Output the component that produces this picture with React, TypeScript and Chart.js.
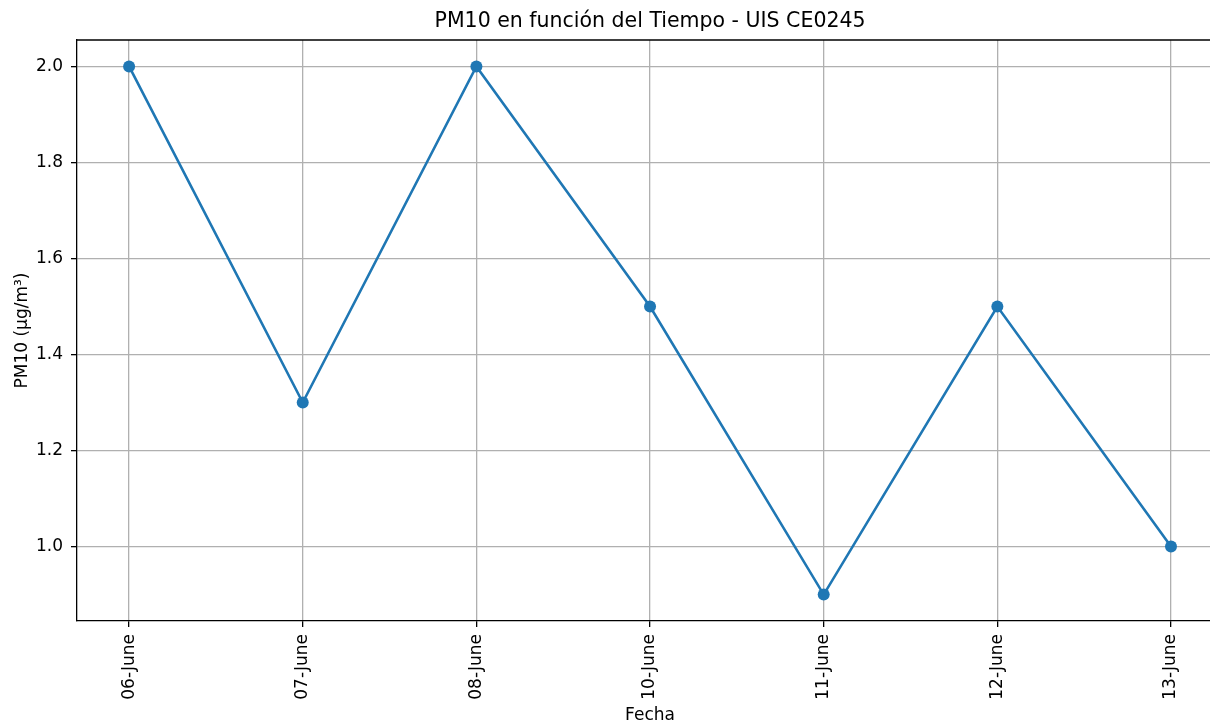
import React, { useEffect, useRef } from "react";
import { Chart, registerables } from "chart.js";

Chart.register(...registerables);

const categories = ["06-June", "07-June", "08-June", "10-June", "11-June", "12-June", "13-June"];
const pm10Values = [2.0, 1.3, 2.0, 1.5, 0.9, 1.5, 1.0];
const yTickValues = [1.0, 1.2, 1.4, 1.6, 1.8, 2.0];
const titleText = "PM10 en función del Tiempo - UIS CE0245";
const xTitle = "Fecha";
const yTitle = "PM10 (µg/m³)";

const FONT = "'DejaVu Sans', sans-serif";
const LINE_COLOR = "#1f77b4";

const decorPlugin = {
  id: "decor",
  afterDraw(chart: any) {
    const { ctx, chartArea } = chart;
    const xs = chart.scales.x;
    ctx.save();
    // top spine
    ctx.strokeStyle = "#000";
    ctx.lineWidth = 1.3;
    ctx.beginPath();
    ctx.moveTo(chartArea.left, chartArea.top);
    ctx.lineTo(chartArea.right, chartArea.top);
    ctx.stroke();

    const axesCenter = (xs.getPixelForValue(-0.3) + xs.getPixelForValue(6.3)) / 2;
    ctx.fillStyle = "#000";
    ctx.textAlign = "center";
    ctx.textBaseline = "middle";
    ctx.font = `20.5px ${FONT}`;
    ctx.fillText(titleText, axesCenter, 22);

    ctx.font = `17px ${FONT}`;
    ctx.textBaseline = "alphabetic";
    ctx.fillText(xTitle, axesCenter, 719.5);

    ctx.translate(27, (chartArea.top + chartArea.bottom) / 2);
    ctx.rotate(-Math.PI / 2);
    ctx.fillText(yTitle, 0, 0);
    ctx.restore();
  },
};

export default function App() {
  const canvasRef = useRef<HTMLCanvasElement | null>(null);

  useEffect(() => {
    if (!canvasRef.current) return;
    const points = pm10Values.map((v, i) => ({ x: i, y: v }));
    const chart = new Chart(canvasRef.current, {
      type: "line",
      data: {
        datasets: [
          {
            data: points,
            borderColor: LINE_COLOR,
            backgroundColor: LINE_COLOR,
            borderWidth: 2.6,
            pointRadius: 6,
            pointHoverRadius: 6,
            pointBackgroundColor: LINE_COLOR,
            pointBorderColor: LINE_COLOR,
            pointBorderWidth: 0,
            tension: 0,
          },
        ],
      },
      options: {
        animation: false,
        responsive: false,
        maintainAspectRatio: false,
        layout: { autoPadding: false, padding: { top: 40, left: 0, right: 0, bottom: 0 } },
        plugins: {
          legend: { display: false },
          title: { display: false },
          tooltip: { enabled: false },
        },
        scales: {
          x: {
            type: "linear",
            min: -0.3,
            max: 6.2246,
            afterBuildTicks: (scale: any) => {
              scale.ticks = categories.map((_, i) => ({ value: i }));
            },
            afterFit: (scale: any) => {
              scale.height = 99;
              scale.paddingLeft = 0;
              scale.paddingRight = 0;
            },
            grid: {
              color: "#b0b0b0",
              lineWidth: 1.3,
              drawTicks: true,
              tickLength: 6,
              tickColor: "#000",
              tickWidth: 1.3,
            },
            border: { display: true, color: "#000", width: 1.3 },
            ticks: {
              autoSkip: false,
              minRotation: 90,
              maxRotation: 90,
              padding: 7,
              color: "#000",
              font: { family: FONT, size: 17 },
              callback: (value: any) => categories[Math.round(Number(value))] ?? "",
            },
          },
          y: {
            type: "linear",
            min: 0.845,
            max: 2.055,
            afterBuildTicks: (scale: any) => {
              scale.ticks = yTickValues.map((v) => ({ value: v }));
            },
            afterFit: (scale: any) => {
              scale.width = 77;
              scale.paddingTop = 0;
              scale.paddingBottom = 0;
            },
            grid: {
              color: "#b0b0b0",
              lineWidth: 1.3,
              drawTicks: true,
              tickLength: 6,
              tickColor: "#000",
              tickWidth: 1.3,
            },
            border: { display: true, color: "#000", width: 1.3 },
            ticks: {
              padding: 8,
              color: "#000",
              font: { family: FONT, size: 17 },
              callback: (value: any) => Number(value).toFixed(1),
            },
          },
        },
      },
      plugins: [decorPlugin],
    });
    return () => chart.destroy();
  }, []);

  return (
    <div
      style={{
        position: "fixed",
        left: 0,
        top: 0,
        width: 1210,
        height: 720,
        overflow: "hidden",
        background: "#fff",
      }}
    >
      <canvas ref={canvasRef} width={1210} height={720} style={{ display: "block", width: 1210, height: 720 }} />
    </div>
  );
}
